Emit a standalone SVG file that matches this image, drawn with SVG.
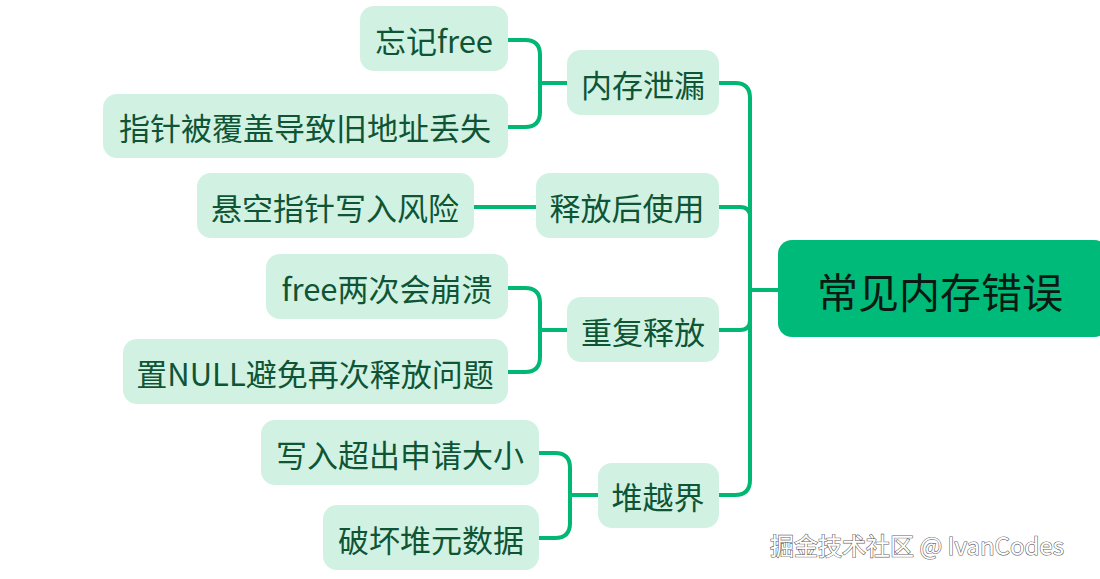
<svg xmlns="http://www.w3.org/2000/svg" width="1100" height="579" viewBox="0 0 1100 579">
<style>
.n{fill:#d1f2e3}
.t{font-family:"Noto Sans CJK SC","Noto Sans",sans-serif;font-size:31px;fill:#0f5535;text-anchor:middle;dominant-baseline:central}
.c{fill:none;stroke:#00b873;stroke-width:4;stroke-linecap:round}
</style>
<rect width="1100" height="579" fill="#fff"/>
<g id="connectors">
<path class="c" d="M719,83 H735 Q750,83 750,98 V480 Q750,495 735,495 H719 M750,290 H778 M719,207 H740 Q750,207 750,217 M719,330 H740 Q750,330 750,320"/>
<path class="c" d="M508,40 H525 Q540,40 540,55 V112 Q540,127 525,127 H508 M540,83 H567"/>
<path class="c" d="M474,207 H536"/>
<path class="c" d="M508,288 H525 Q540,288 540,303 V357 Q540,372 525,372 H508 M540,330 H567"/>
<path class="c" d="M539,453 H555 Q570,453 570,468 V523 Q570,538 555,538 H539 M570,495 H598"/>
</g>
<g id="root"><rect x="778" y="240" width="330" height="97" rx="14" fill="#00ba7a"/><text class="t" x="940" y="290" style="font-size:41px;fill:#0a1a12">常见内存错误</text></g>
<g id="n1"><rect class="n" x="567" y="50" width="152" height="65" rx="14"/><text class="t" x="643" y="83">内存泄漏</text></g>
<g id="n2"><rect class="n" x="536" y="173" width="183" height="65" rx="14"/><text class="t" x="627" y="206">释放后使用</text></g>
<g id="n3"><rect class="n" x="567" y="297" width="152" height="65" rx="14"/><text class="t" x="643" y="330">重复释放</text></g>
<g id="n4"><rect class="n" x="598" y="463" width="121" height="65" rx="14"/><text class="t" x="658" y="495">堆越界</text></g>
<g id="l1"><rect class="n" x="360" y="6" width="148" height="65" rx="14"/><text class="t" x="434" y="39">忘记free</text></g>
<g id="l2"><rect class="n" x="103" y="94" width="405" height="64" rx="14"/><text class="t" x="305" y="126">指针被覆盖导致旧地址丢失</text></g>
<g id="l3"><rect class="n" x="197" y="173" width="277" height="65" rx="14"/><text class="t" x="335" y="206">悬空指针写入风险</text></g>
<g id="l4"><rect class="n" x="266" y="254" width="242" height="65" rx="14"/><text class="t" x="387" y="287">free两次会崩溃</text></g>
<g id="l5"><rect class="n" x="123" y="339" width="385" height="65" rx="14"/><text class="t" x="315" y="372">置NULL避免再次释放问题</text></g>
<g id="l6"><rect class="n" x="261" y="420" width="278" height="65" rx="14"/><text class="t" x="400" y="453">写入超出申请大小</text></g>
<g id="l7"><rect class="n" x="323" y="505" width="216" height="65" rx="14"/><text class="t" x="431" y="538">破坏堆元数据</text></g>
<text x="770" y="555" style="font-family:'Noto Sans CJK SC',sans-serif;font-size:24px;fill:#fff;stroke:#666;stroke-width:1.2;paint-order:stroke">掘金技术社区 @ IvanCodes</text>
</svg>
